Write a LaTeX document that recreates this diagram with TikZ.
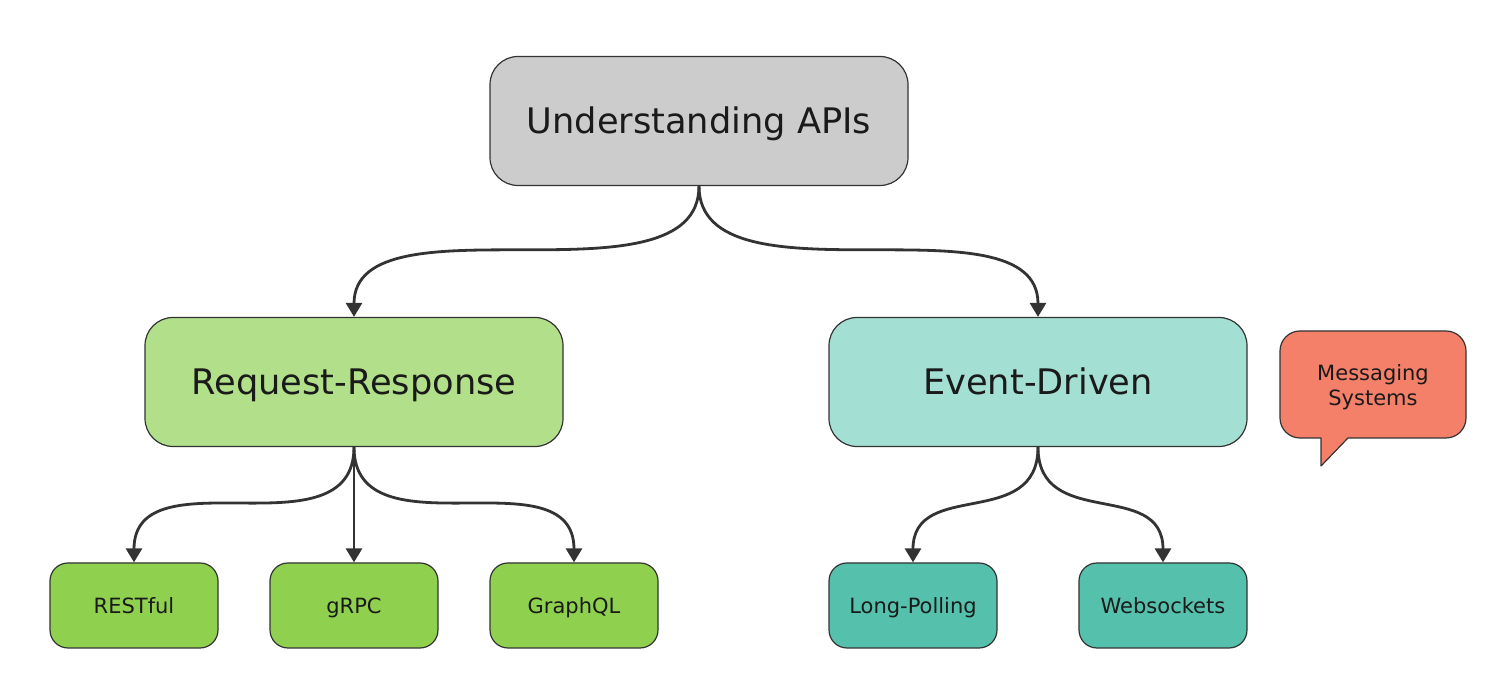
\documentclass[tikz,border=0pt]{standalone}
\usepackage{fontspec}
\setmainfont{DejaVu Sans}
\usetikzlibrary{arrows.meta}

\begin{document}
\begin{tikzpicture}[x=1pt,y=1pt,
  box/.style={draw=lineColor,line width=0.6pt,rounded corners=14pt,inner sep=0pt,text=textColor},
  bigbox/.style={box,minimum width=209pt,minimum height=64.5pt,text height=12.8pt,text depth=0pt,font=\fontsize{17.6}{21}\selectfont},
  leafbox/.style={box,rounded corners=9pt,minimum width=84pt,minimum height=42.5pt,text height=7.7pt,text depth=0pt,font=\fontsize{10.5}{12.5}\selectfont},
  link/.style={draw=lineColor,line width=1.4pt,-{Triangle[length=7pt,width=8pt]}}]
\definecolor{lineColor}{RGB}{51,51,51}
\definecolor{textColor}{RGB}{26,26,26}
\definecolor{greyFill}{RGB}{204,204,204}
\definecolor{reqFill}{RGB}{178,224,138}
\definecolor{evtFill}{RGB}{163,223,210}
\definecolor{leafGreen}{RGB}{143,209,79}
\definecolor{leafTeal}{RGB}{85,192,171}
\definecolor{msgFill}{RGB}{245,128,106}
\path[use as bounding box,fill=white] (0,0) rectangle (742.5,336.5);

\node[bigbox,fill=greyFill] (apis) at (349.5,276.0) {Understanding APIs};

\node[bigbox,fill=reqFill] (reqres) at (177.0,145.5) {Request-Response};

\node[bigbox,fill=evtFill] (event) at (519.0,145.5) {Event-Driven};

\node[leafbox,fill=leafGreen] (rest) at ( 67.0, 33.75) {RESTful};

\node[leafbox,fill=leafGreen] (grpc) at (177.0, 33.75) {gRPC};

\node[leafbox,fill=leafGreen] (graphql) at (287.0, 33.75) {GraphQL};

\node[leafbox,fill=leafTeal] (polling) at (456.5, 33.75) {Long-Polling};

\node[leafbox,fill=leafTeal] (sockets) at (581.5, 33.75) {Websockets};

\path[draw=lineColor,fill=msgFill,line width=0.6pt,line join=round] (660.5,103.5) --
	(660.5,117.5) --
	(650.0,117.5) arc[start angle=270,end angle=180,radius=10] --
	(640.0,161.0) arc[start angle=180,end angle=90,radius=10] --
	(723.0,171.0) arc[start angle=90,end angle=0,radius=10] --
	(733.0,127.5) arc[start angle=0,end angle=-90,radius=10] --
	(674.0,117.5) -- cycle;

\node[text=textColor,align=center,inner sep=0pt,font=\fontsize{10.5}{12.5}\selectfont] (msg) at (686.5,143.0) {Messaging\\Systems};

\draw[link] (apis.south) .. controls +(0,-62) and +(0,62) .. (reqres.north);
\draw[link] (apis.south) .. controls +(0,-62) and +(0,62) .. (event.north);

\draw[link] (reqres.south) .. controls +(0,-55) and +(0,55) .. (rest.north);
\draw[link] (reqres.south) -- (grpc.north);
\draw[link] (reqres.south) .. controls +(0,-55) and +(0,55) .. (graphql.north);

\draw[link] (event.south) .. controls +(0,-42) and +(0,42) .. (polling.north);
\draw[link] (event.south) .. controls +(0,-42) and +(0,42) .. (sockets.north);
\end{tikzpicture}
\end{document}
